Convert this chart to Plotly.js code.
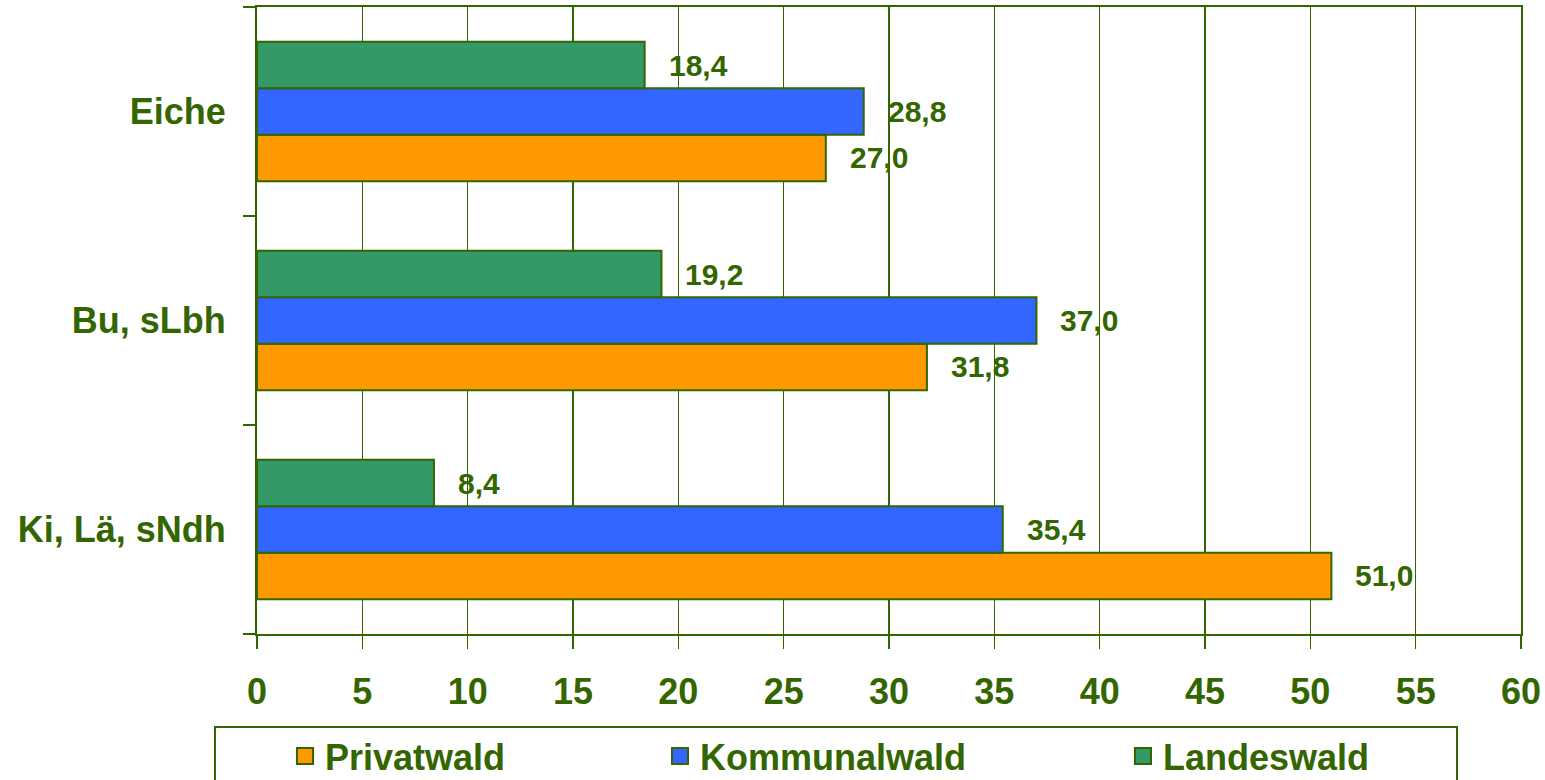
<!DOCTYPE html>
<html>
<head>
<meta charset="utf-8">
<script src="https://cdn.plot.ly/plotly-3.0.1.min.js"></script>
<style>html,body{margin:0;padding:0;background:#fff;}#chart{width:1545px;height:780px;}</style>
</head>
<body>
<div id="chart"></div>
<script>
// ---- data ----
const categories = ['Eiche', 'Bu, sLbh', 'Ki, Lä, sNdh'];
const seriesNames = ['Privatwald', 'Kommunalwald', 'Landeswald'];
const privatwald = [27.0, 31.8, 51.0];
const kommunalwald = [28.8, 37.0, 35.4];
const landeswald = [18.4, 19.2, 8.4];
const xTicks = [0, 5, 10, 15, 20, 25, 30, 35, 40, 45, 50, 55, 60];

// ---- style ----
const DARK = '#336600';
const colors = ['#FF9900', '#3366FF', '#339966'];
const FONT = 'Liberation Sans, Arial, sans-serif';
const W = 1545, H = 780;
const M = {l: 257, r: 24, t: 7, b: 146, autoexpand: false};
const plotW = W - M.l - M.r, plotH = H - M.t - M.b;
const BARGAP = 0.333;
const series = [privatwald, kommunalwald, landeswald];

const fmt = v => v.toFixed(1).replace('.', ',');

const traces = [];
series.forEach((vals, i) => {
  traces.push({
    type: 'bar', orientation: 'h', name: seriesNames[i],
    x: vals, y: categories,
    marker: {color: colors[i], line: {color: DARK, width: 2}},
    showlegend: false, hoverinfo: 'x+name'
  });
});
// legend entries (larger square symbols)
const legendIds = ['legend', 'legend2', 'legend3'];
series.forEach((vals, i) => {
  traces.push({
    type: 'scatter', mode: 'markers', name: seriesNames[i],
    x: [null], y: [null], legend: legendIds[i],
    marker: {symbol: 'square', size: 16, color: colors[i], line: {color: DARK, width: 2}},
    showlegend: true
  });
});

// value labels
const catPx = plotH / categories.length;
const barPx = catPx * (1 - BARGAP) / series.length;
const annotations = [];
series.forEach((vals, i) => {
  vals.forEach((v, j) => {
    annotations.push({
      x: v, y: categories[j], xref: 'x', yref: 'y',
      text: fmt(v), showarrow: false, xanchor: 'left', yanchor: 'middle',
      xshift: 22, yshift: (i - 1) * barPx,
      font: {family: FONT, size: 30, color: DARK, weight: 'bold'}
    });
  });
});

const legendFont = {family: FONT, size: 36, color: DARK, weight: 'bold'};
const legendBase = {orientation: 'h', xanchor: 'left', yanchor: 'middle',
  y: -(756 - (H - M.b)) / plotH, bgcolor: 'rgba(0,0,0,0)', borderwidth: 0,
  font: legendFont, itemclick: false, itemdoubleclick: false};
const legX = px => (px - M.l) / plotW;

const layout = {
  width: W, height: H,
  margin: M,
  paper_bgcolor: '#fff', plot_bgcolor: '#fff',
  barmode: 'group', bargap: BARGAP, bargroupgap: 0,
  font: {family: FONT, color: DARK},
  xaxis: {
    range: [0, 60], tickmode: 'array', tickvals: xTicks, ticktext: xTicks.map(String),
    showgrid: true, gridcolor: DARK, gridwidth: 1.5,
    zeroline: false, showline: true, linecolor: DARK, linewidth: 2, mirror: true,
    ticks: 'outside', ticklen: 13, tickwidth: 1.5, tickcolor: DARK,
    tickfont: {family: FONT, size: 36, color: DARK, weight: 'bold'},
    ticklabelstandoff: 12, automargin: false, fixedrange: true
  },
  yaxis: {
    type: 'category', categoryorder: 'array', categoryarray: categories.slice().reverse(),
    tickson: 'boundaries', showgrid: false, zeroline: false,
    showline: true, linecolor: DARK, linewidth: 2, mirror: true,
    ticks: 'outside', ticklen: 12, tickwidth: 1.5, tickcolor: DARK,
    tickfont: {family: FONT, size: 36, color: DARK, weight: 'bold'},
    ticklabelstandoff: 22, automargin: false, fixedrange: true
  },
  legend: Object.assign({}, legendBase, {x: legX(285)}),
  legend2: Object.assign({}, legendBase, {x: legX(660)}),
  legend3: Object.assign({}, legendBase, {x: legX(1123)}),
  shapes: [{
    type: 'rect', xref: 'paper', yref: 'paper',
    x0: legX(215), x1: legX(1457),
    y0: -(727 - (H - M.b)) / plotH, y1: -(800 - (H - M.b)) / plotH,
    line: {color: DARK, width: 2}, fillcolor: 'rgba(0,0,0,0)'
  }],
  annotations: annotations
};

Plotly.newPlot('chart', traces, layout, {displayModeBar: false, staticPlot: true});
</script>
</body>
</html>
